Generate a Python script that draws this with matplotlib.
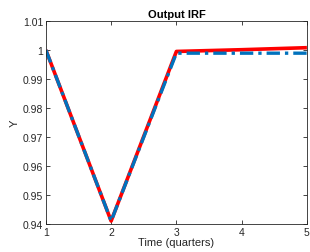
import matplotlib
matplotlib.use("Agg")
import matplotlib.pyplot as plt

t = [1, 2, 3, 4, 5]
red_vals = [1.0, 0.941, 0.9995, 1.0001, 1.0008]
blue_vals = [1.0, 0.941, 0.9989, 0.9989, 0.9989]
yticks = [0.94, 0.95, 0.96, 0.97, 0.98, 0.99, 1.0, 1.01]
ytick_labels = ["0.94", "0.95", "0.96", "0.97", "0.98", "0.99", "1", "1.01"]

plt.rcParams['font.family'] = ['Liberation Sans', 'DejaVu Sans']
fig = plt.figure(figsize=(3.1, 2.53), dpi=100)
ax = fig.add_axes([0.148, 0.111, 0.842, 0.802])
ax.plot(t, red_vals, color='#FF0000', lw=2.6, solid_capstyle='butt')
ax.plot(t, blue_vals, color='#0072BD', lw=2.4, linestyle=(0, (4, 1.5, 1, 1.5)))
ax.set_xlim(1, 5)
ax.set_ylim(0.94, 1.01)
ax.set_xticks(t)
ax.set_yticks(yticks)
ax.set_yticklabels(ytick_labels)
ax.tick_params(direction='in', labelsize=7.5, length=3, width=0.6, top=True, right=True, pad=2,
               colors='#262626')
for s in ax.spines.values():
    s.set_linewidth(0.6)
    s.set_color('#262626')
ax.set_title("Output IRF", fontsize=8, fontweight='bold', pad=3)
ax.set_xlabel("Time (quarters)", fontsize=8, labelpad=0, color='#262626')
ax.set_ylabel("Y", fontsize=8, labelpad=2, color='#262626')
fig.savefig("out.png", dpi=100)
